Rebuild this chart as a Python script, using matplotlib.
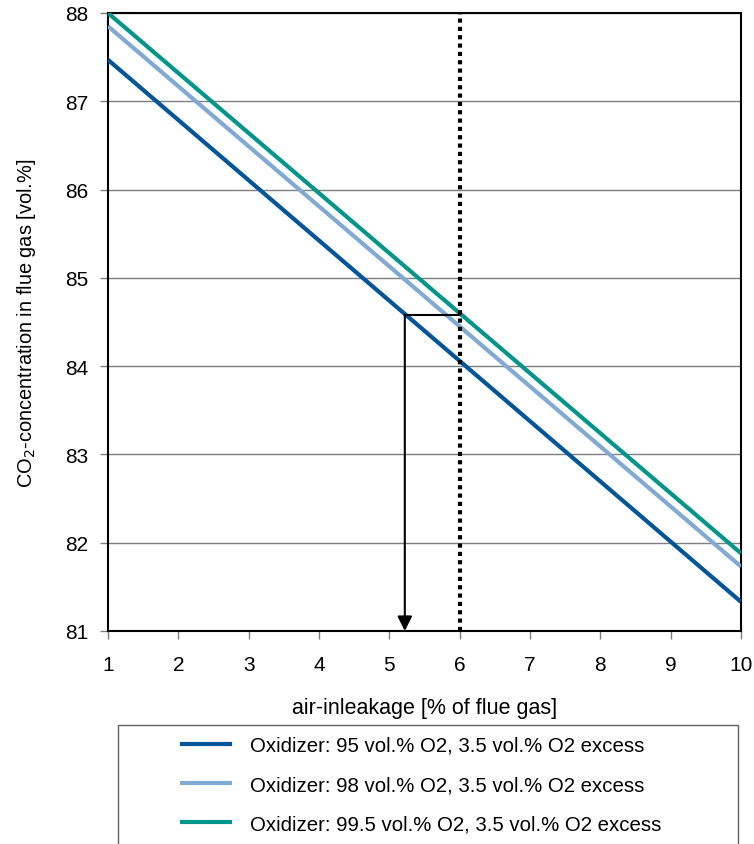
import matplotlib.pyplot as plt
from matplotlib.patches import Rectangle

plt.rcParams['font.family'] = ['Liberation Sans', 'DejaVu Sans']

# air in-leakage [% of flue gas]
air_inleakage = [1, 10]
# CO2 concentration [vol.%] for each oxidizer purity
co2_95 = [87.47, 81.33]
co2_98 = [87.85, 81.73]
co2_995 = [88.0, 81.88]
labels = ["Oxidizer: 95 vol.% O2, 3.5 vol.% O2 excess",
          "Oxidizer: 98 vol.% O2, 3.5 vol.% O2 excess",
          "Oxidizer: 99.5 vol.% O2, 3.5 vol.% O2 excess"]
colors = ["#00559b", "#80aad3", "#00968a"]

# reading example: 6 % air-inleakage on 99.5 line -> equivalent on 95 line
read_x = 6
read_y = 84.58
read_x_equiv = 5.22

fig = plt.figure(figsize=(7.54, 8.45), dpi=100)
ax = fig.add_axes([108 / 754, 1 - 632 / 845, 633 / 754, 618 / 845])

for ys, c, lab in zip([co2_95, co2_98, co2_995], colors, labels):
    ax.plot(air_inleakage, ys, color=c, linewidth=3, label=lab, solid_capstyle='butt', zorder=3)

ax.axvline(read_x, color='black', linewidth=3, linestyle=(0, (1, 1)), zorder=4)
ax.plot([read_x, read_x_equiv], [read_y, read_y], color='black', linewidth=1.5, zorder=4)
ax.annotate("", xy=(read_x_equiv, 81), xytext=(read_x_equiv, read_y),
            arrowprops=dict(arrowstyle='-|>', color='black', lw=1.5,
                            mutation_scale=22, shrinkA=0, shrinkB=0), zorder=4)

ax.set_xlim(1, 10)
ax.set_ylim(81, 88)
ax.set_xticks(range(1, 11))
ax.set_yticks(range(81, 89))
ax.yaxis.grid(True, color='#7f7f7f', linewidth=1)
ax.set_axisbelow(True)
for s in ax.spines.values():
    s.set_color('black')
    s.set_linewidth(1.5)
ax.tick_params(axis='both', labelsize=15, direction='out', length=6, width=1, color='#7f7f7f')
ax.tick_params(axis='x', pad=11)
ax.tick_params(axis='y', pad=8)

ax.set_xlabel("air-inleakage [% of flue gas]", fontsize=15.5, labelpad=17)
ax.set_ylabel("CO$_2$-concentration in flue gas [vol.%]", fontsize=14.4, labelpad=20)

# legend box
fig.patches.append(Rectangle((118 / 754, -0.01), 620 / 754, 1 - 726 / 845 + 0.01, transform=fig.transFigure,
                             fill=False, edgecolor='#606060', linewidth=1))
handles, labs = ax.get_legend_handles_labels()
fig.legend(handles, labs, loc='upper left', bbox_to_anchor=(180 / 754, 1 - 737 / 845),
           frameon=False, fontsize=14.7, handlelength=2.55, handletextpad=0.88,
           labelspacing=0.98, borderpad=0, borderaxespad=0)

fig.savefig("out.png", dpi=100)
